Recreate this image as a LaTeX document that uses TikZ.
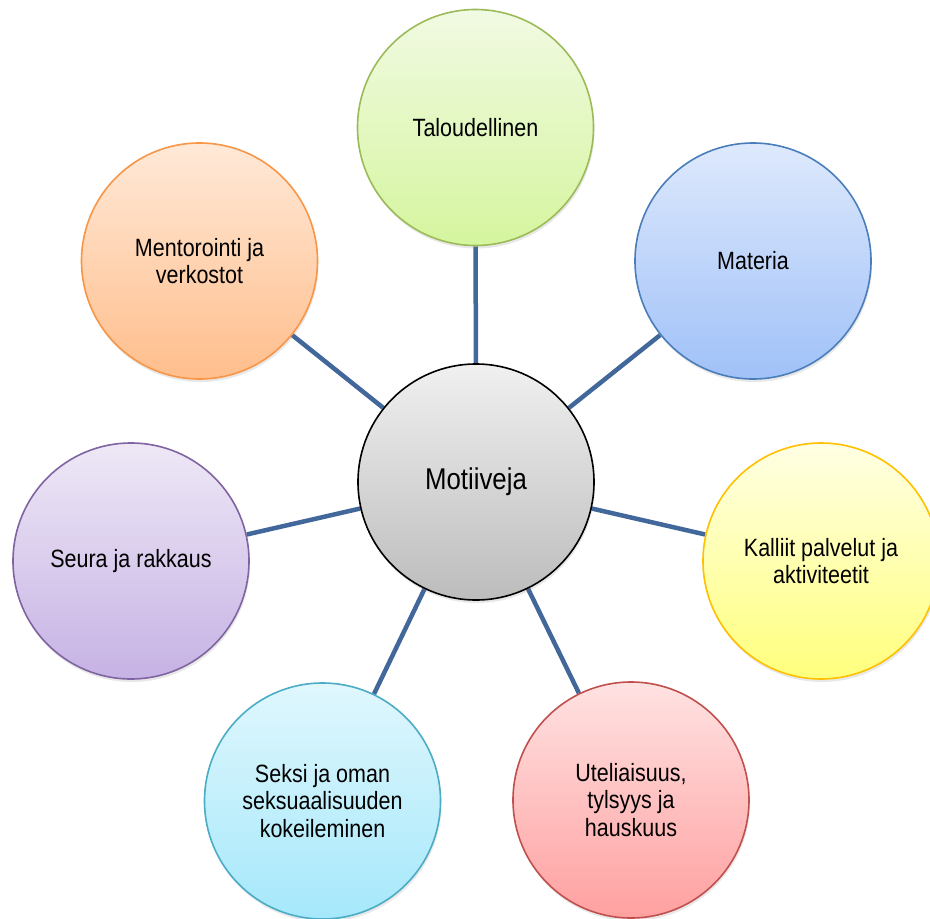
\documentclass[tikz,border=0pt]{standalone}
\usepackage{fontspec}
\setmainfont{Liberation Sans}[FakeStretch=0.86]
\usetikzlibrary{shadows,backgrounds}
\definecolor{linkc}{RGB}{66,103,154}
\definecolor{gT}{RGB}{241,250,227}\definecolor{gB}{RGB}{213,245,158}\definecolor{gD}{RGB}{155,187,89}
\definecolor{bT}{RGB}{222,233,252}\definecolor{bB}{RGB}{160,193,248}\definecolor{bD}{RGB}{74,126,187}
\definecolor{yT}{RGB}{255,255,228}\definecolor{yB}{RGB}{255,255,125}\definecolor{yD}{RGB}{255,192,0}
\definecolor{rT}{RGB}{255,226,226}\definecolor{rB}{RGB}{255,160,160}\definecolor{rD}{RGB}{192,80,77}
\definecolor{cT}{RGB}{224,247,253}\definecolor{cB}{RGB}{165,232,251}\definecolor{cD}{RGB}{75,172,198}
\definecolor{pT}{RGB}{238,232,246}\definecolor{pB}{RGB}{198,178,228}\definecolor{pD}{RGB}{128,100,162}
\definecolor{oT}{RGB}{255,233,216}\definecolor{oB}{RGB}{255,190,140}\definecolor{oD}{RGB}{247,150,70}
\definecolor{kT}{RGB}{240,240,240}\definecolor{kB}{RGB}{188,188,188}
\tikzset{
  bubble/.style n args={3}{circle, minimum size=236pt, inner sep=0pt, align=center,
    top color=#1, bottom color=#2, draw=#3, line width=1.6pt,
    font=\fontsize{25}{27.6}\selectfont,
    drop shadow={opacity=0.18, shadow xshift=1pt, shadow yshift=-3pt}},
  link/.style={draw=linkc, line width=4.5pt}
}
\begin{document}
\begin{tikzpicture}[x=1pt,y=-1pt]
\useasboundingbox (0,0) rectangle (930,919);
\node[bubble={kT}{kB}{black}, font=\fontsize{30}{32}\selectfont] (c) at (476,482) {Motiiveja};
\node[bubble={gT}{gB}{gD}] (tal) at (475.5,127.5) {Taloudellinen};
\node[bubble={bT}{bB}{bD}] (mat) at (753,261) {Materia};
\node[bubble={yT}{yB}{yD}] (kal) at (821,561) {Kalliit palvelut ja\\aktiviteetit};
\node[bubble={rT}{rB}{rD}] (ute) at (631,800) {Uteliaisuus,\\tylsyys ja\\hauskuus};
\node[bubble={cT}{cB}{cD}] (sek) at (322.5,801) {Seksi ja oman\\seksuaalisuuden\\kokeileminen};
\node[bubble={pT}{pB}{pD}] (seu) at (131,561) {Seura ja rakkaus};
\node[bubble={oT}{oB}{oD}] (men) at (199.5,261) {Mentorointi ja\\verkostot};
\begin{scope}[on background layer]
\foreach \n in {tal,mat,kal,ute,sek,seu,men}
  \draw[link] (c) -- (\n);
\end{scope}
\end{tikzpicture}
\end{document}
